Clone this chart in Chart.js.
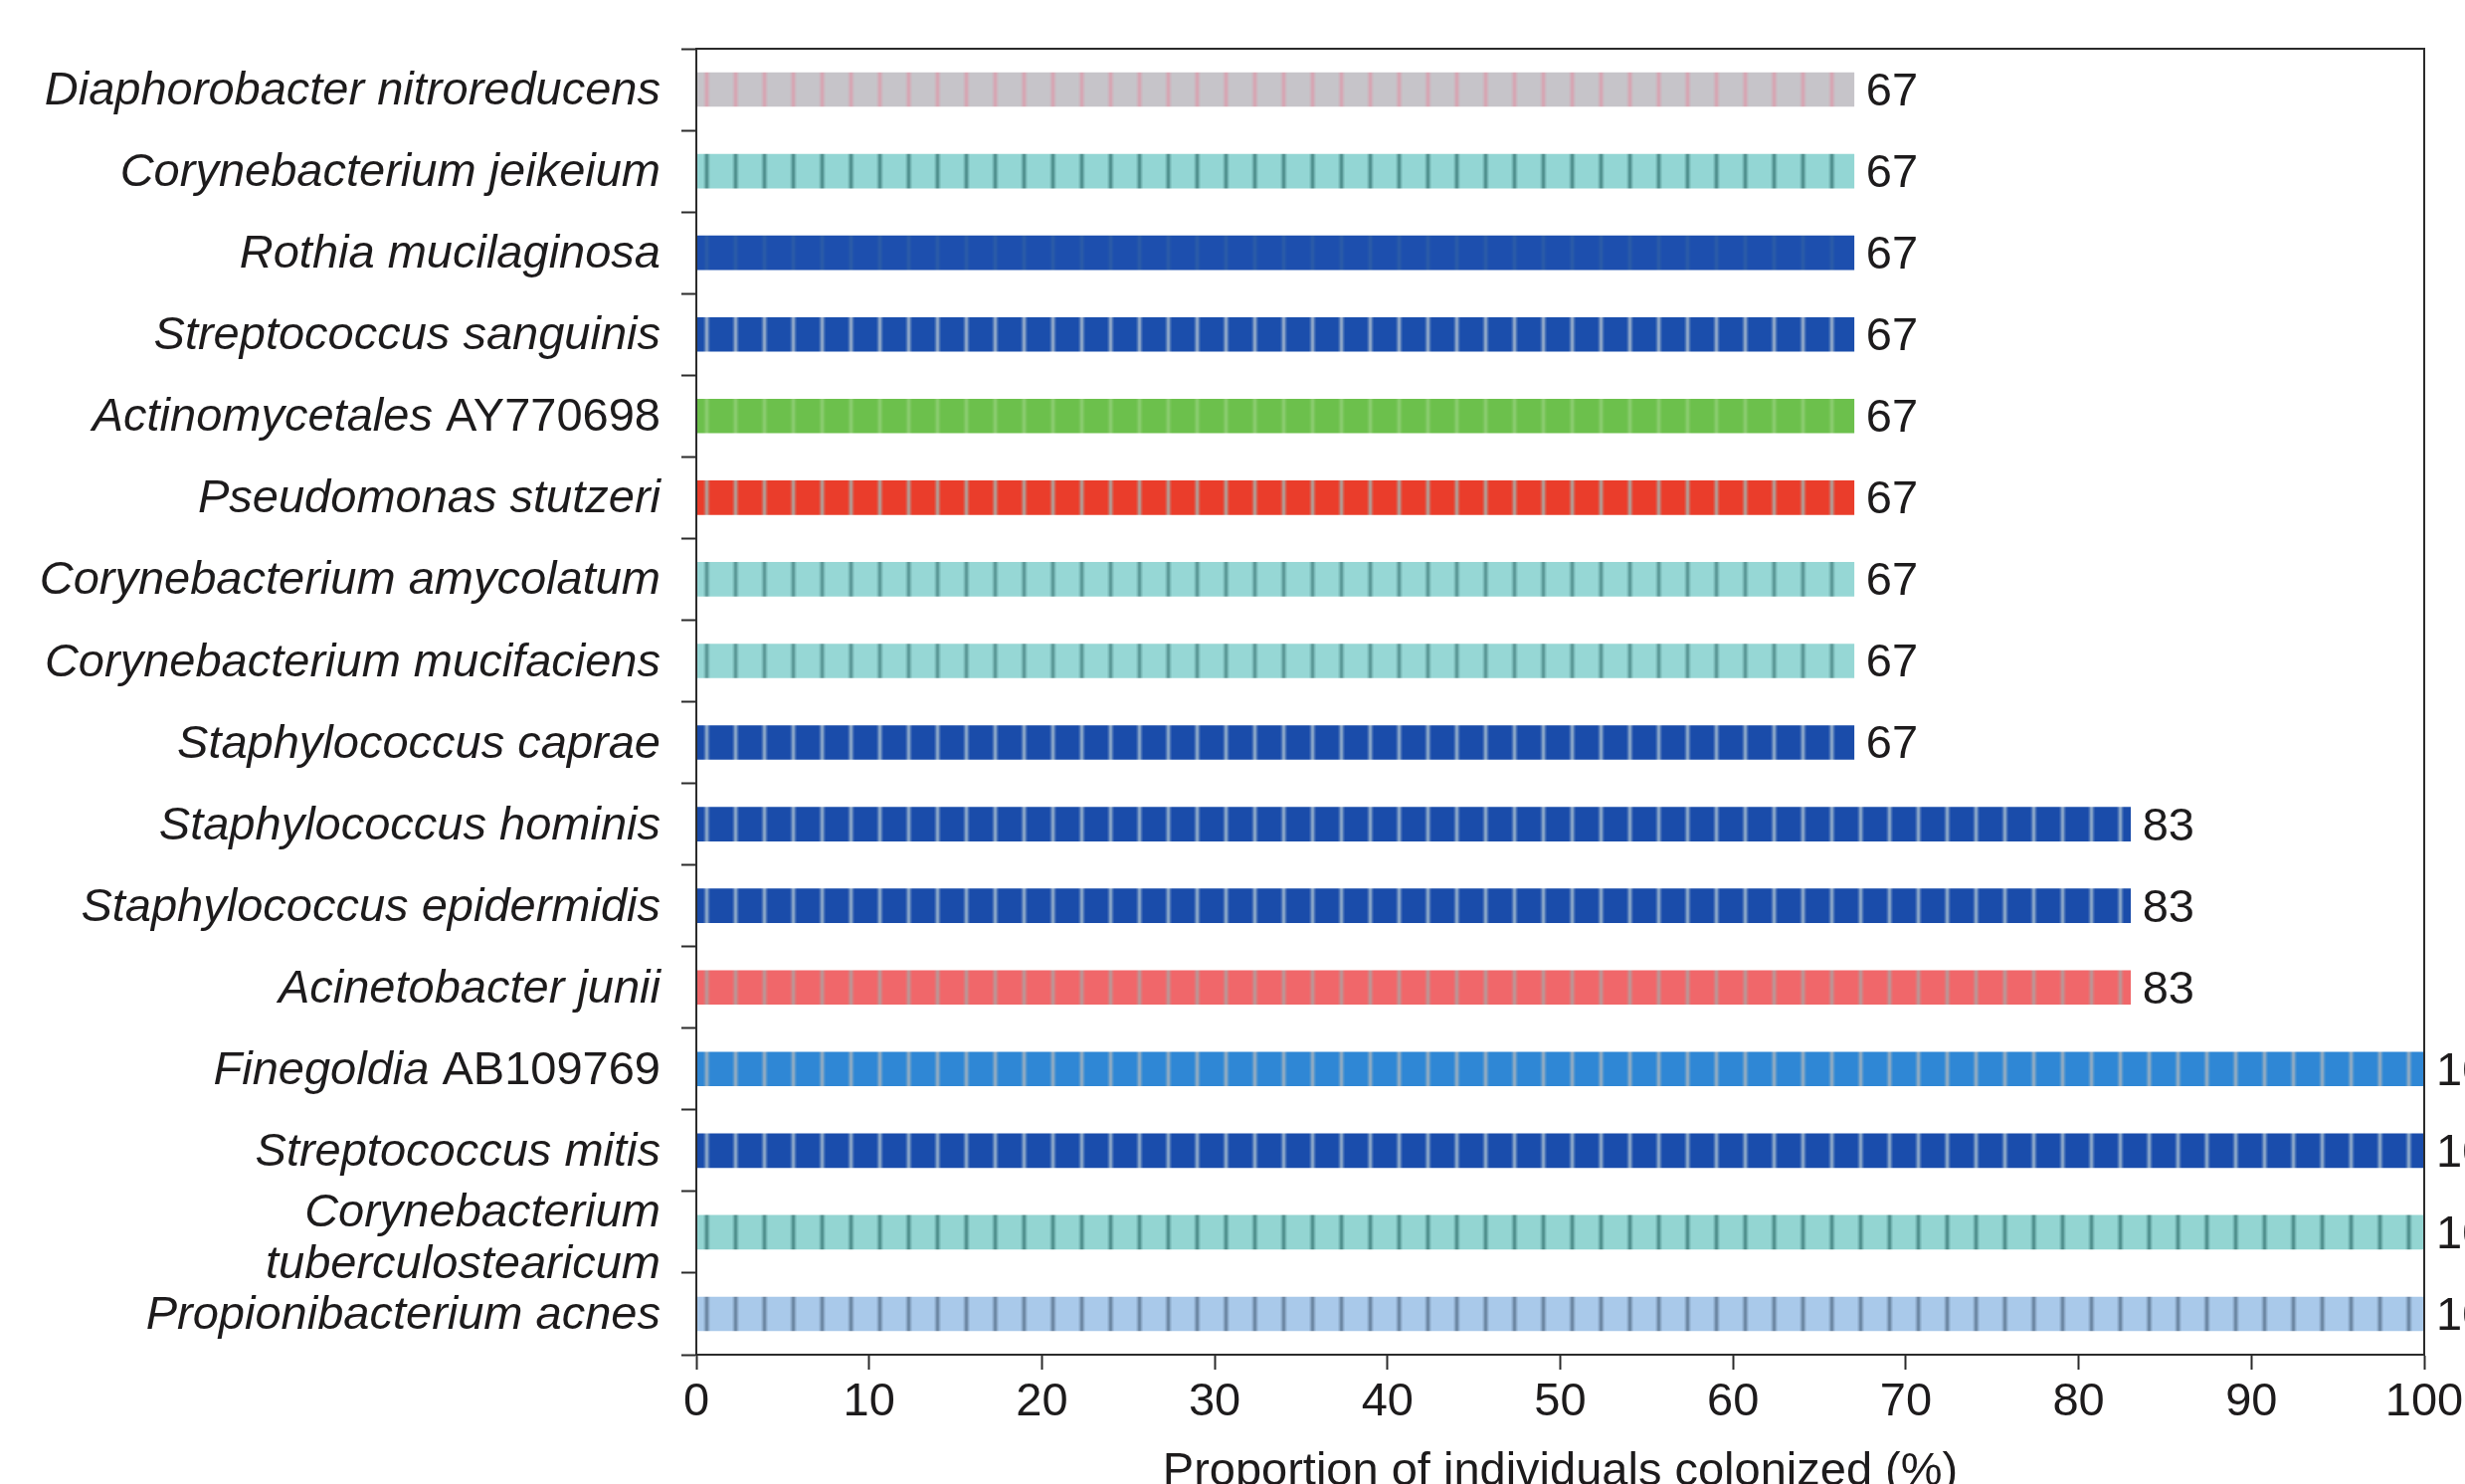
<!DOCTYPE html>
<html>
<head>
<meta charset="utf-8">
<script src="https://cdn.jsdelivr.net/npm/chart.js@4.4.1/dist/chart.umd.min.js"></script>
<style>
  html, body { margin: 0; padding: 0; background: #fff; }
  #wrap { width: 2478px; height: 1492px; }
</style>
</head>
<body>
<div id="wrap"><canvas id="chart" width="2478" height="1492"></canvas></div>
<script>
const SPECIES = [
  'Diaphorobacter nitroreducens',
  'Corynebacterium jeikeium',
  'Rothia mucilaginosa',
  'Streptococcus sanguinis',
  'Actinomycetales AY770698',
  'Pseudomonas stutzeri',
  'Corynebacterium amycolatum',
  'Corynebacterium mucifaciens',
  'Staphylococcus caprae',
  'Staphylococcus hominis',
  'Staphylococcus epidermidis',
  'Acinetobacter junii',
  'Finegoldia AB109769',
  'Streptococcus mitis',
  ['Corynebacterium', 'tuberculostearicum'],
  'Propionibacterium acnes',
]

const COLONIZED = [67, 67, 67, 67, 67, 67, 67, 67, 67, 83, 83, 83, 100, 100, 100, 100]

// bar fill + the thin vertical stripe drawn over it
const BAR_COLORS = [
  '#c6c4c9', '#93d6d4', '#1d4fae', '#1b4eac', '#6cc04c', '#ea3d2b', '#96d7d5', '#96d7d5',
  '#1a4caa', '#1a4caa', '#1a4caa', '#f0676a', '#2f87d5', '#1a4dac', '#93d5d2', '#a9c9ea',
]
const STRIPE_COLORS = [
  '#d6a6b3', '#4f8f8d', '#2a5aa8', '#8fa8c8', '#8acb6e', '#b49a92', '#5a9896', '#5a9896',
  '#8aa6c8', '#8aa6c8', '#8aa6c8', '#bd9494', '#8eaac2', '#8aa6c8', '#4f8f8d', '#6b86a2',
]

const X_TITLE = 'Proportion of individuals colonized (%)'
const FONT = "'Liberation Sans', Arial, sans-serif"
const FONT_SIZE = 47
const TEXT = '#1d1b1c'

function stripePattern(base, stripe) {
  const c = document.createElement('canvas')
  c.width = 29
  c.height = 8
  const g = c.getContext('2d')
  g.fillStyle = base
  g.fillRect(0, 0, 29, 8)
  g.fillStyle = stripe
  // soft-edged stripe
  const alphas = [0.2, 0.45, 0.85, 1, 0.85, 0.45, 0.2]
  alphas.forEach((a, k) => {
    g.globalAlpha = a
    g.fillRect(11 + k, 0, 1, 8)
  })
  return g.createPattern(c, 'repeat')
}

// y labels: genus/species in italic, accession numbers upright
const speciesLabels = {
  id: 'speciesLabels',
  afterDraw(chart) {
    const ctx = chart.ctx
    const y = chart.scales.y
    const right = 664
    ctx.save()
    ctx.fillStyle = TEXT
    ctx.textBaseline = 'middle'
    ctx.textAlign = 'left'
    SPECIES.forEach((label, i) => {
      const lines = Array.isArray(label) ? label : [label]
      const cy = y.getPixelForValue(i) + 2 + (lines.length > 1 ? 5 : 0)
      lines.forEach((line, j) => {
        const ly = cy + (j - (lines.length - 1) / 2) * 52
        const words = line.split(' ')
        const parts = words.map((w, k) => ({
          text: (k > 0 ? ' ' : '') + w,
          font: (/^[A-Z]{2}\d+$/.test(w) ? '' : 'italic ') + FONT_SIZE + 'px ' + FONT,
        }))
        let total = 0
        parts.forEach(p => { ctx.font = p.font; p.w = ctx.measureText(p.text).width; total += p.w })
        let x = right - total
        parts.forEach(p => { ctx.font = p.font; ctx.fillText(p.text, x, ly); x += p.w })
      })
    })
    ctx.restore()
  }
}

const valueLabels = {
  id: 'valueLabels',
  afterDatasetsDraw(chart) {
    const ctx = chart.ctx
    ctx.save()
    ctx.font = FONT_SIZE + 'px ' + FONT
    ctx.fillStyle = TEXT
    ctx.textBaseline = 'middle'
    ctx.textAlign = 'left'
    chart.getDatasetMeta(0).data.forEach((bar, i) => {
      ctx.fillText(String(COLONIZED[i]), bar.x + 12, bar.y + 3)
    })
    ctx.restore()
  }
}

const frame = {
  id: 'frame',
  afterDraw(chart) {
    const { left, top, right, bottom } = chart.chartArea
    const ctx = chart.ctx
    ctx.save()
    ctx.strokeStyle = '#2b2b2b'
    ctx.lineWidth = 2
    ctx.strokeRect(left, top, right - left, bottom - top)
    ctx.restore()
  }
}

const ctx = document.getElementById('chart').getContext('2d')
new Chart(ctx, {
  type: 'bar',
  data: {
    labels: SPECIES.map(s => Array.isArray(s) ? s.join(' ') : s),
    datasets: [{
      data: COLONIZED,
      backgroundColor: BAR_COLORS.map((c, i) => stripePattern(c, STRIPE_COLORS[i])),
      borderWidth: 0,
      barThickness: 34,
    }]
  },
  options: {
    indexAxis: 'y',
    responsive: false,
    devicePixelRatio: 1,
    animation: false,
    layout: { padding: { top: 49, right: 41, left: 0, bottom: 0 } },
    plugins: { legend: { display: false }, tooltip: { enabled: false } },
    scales: {
      x: {
        min: 0,
        max: 100,
        ticks: { stepSize: 10, color: TEXT, font: { family: FONT, size: FONT_SIZE }, padding: 5, maxRotation: 0 },
        grid: { drawOnChartArea: false, tickLength: 15, tickWidth: 2, tickColor: '#2b2b2b' },
        border: { color: '#2b2b2b', width: 2 },
        title: {
          display: true,
          text: X_TITLE,
          color: TEXT,
          font: { family: FONT, size: FONT_SIZE, lineHeight: 1 },
          padding: { top: 0, bottom: -12 },
        },
        afterFit(scale) {
          scale.height = 130
          scale.paddingLeft = 0
          scale.paddingRight = 0
        },
      },
      y: {
        ticks: { display: false },
        grid: { drawOnChartArea: false, offset: true, tickLength: 15, tickWidth: 2, tickColor: '#2b2b2b' },
        border: { color: '#2b2b2b', width: 2 },
        afterFit(scale) { scale.width = 700 },
      }
    }
  },
  plugins: [valueLabels, speciesLabels, frame]
})
</script>
</body>
</html>
